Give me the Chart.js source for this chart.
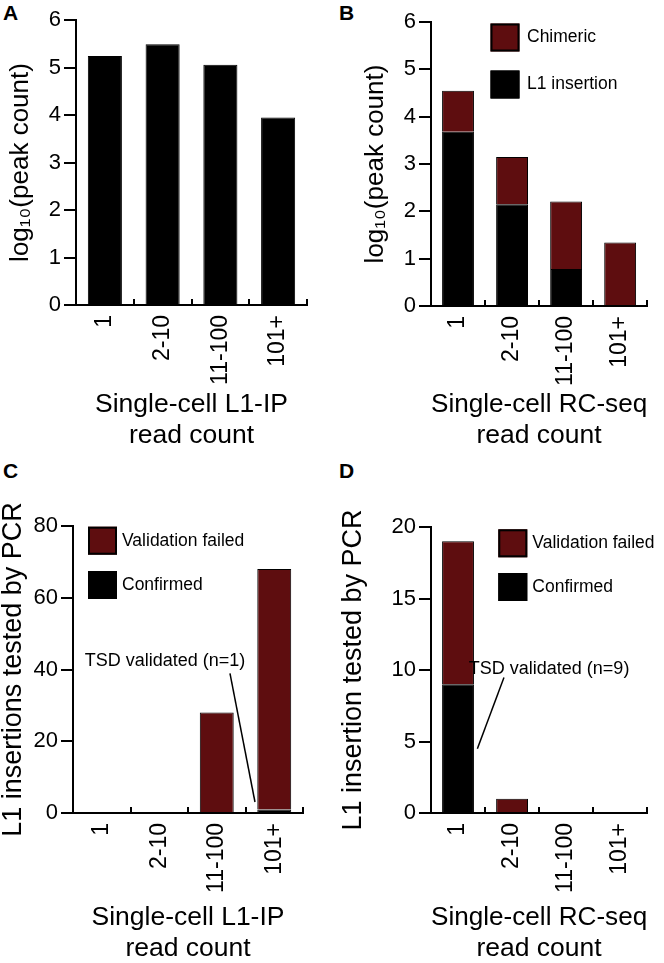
<!DOCTYPE html>
<html>
<head>
<meta charset="utf-8">
<script src="https://cdn.jsdelivr.net/npm/chart.js@4.4.1/dist/chart.umd.min.js"></script>
<style>
  html, body { margin: 0; padding: 0; background: #fff; overflow: hidden; }
  #pagina { position: relative; width: 664px; height: 963px; }
  canvas { position: absolute; }
  .letra { position: absolute; font: bold 21px 'Liberation Sans', Arial, sans-serif; line-height: 21px; }
</style>
</head>
<body>
<div id="pagina">
  <div class="letra" style="left:3px;top:2px">A</div>
  <div class="letra" style="left:339px;top:2px">B</div>
  <div class="letra" style="left:3px;top:460px">C</div>
  <div class="letra" style="left:339px;top:460px">D</div>
  <canvas id="graficoA" width="332" height="452" style="left:0;top:0"></canvas>
  <canvas id="graficoB" width="332" height="452" style="left:332px;top:0"></canvas>
  <canvas id="graficoC" width="332" height="525" style="left:0;top:440px"></canvas>
  <canvas id="graficoD" width="332" height="525" style="left:332px;top:440px"></canvas>
</div>
<script>
// Dados
const categorias = ['1', '2-10', '11-100', '101+'];
const picosL1IP = [5.24, 5.49, 5.06, 3.95];        // painel A, log10
const rcInsercao = [3.68, 2.15, 0.78, 0];          // painel B, parte preta
const rcQuimerico = [0.87, 1.00, 1.43, 1.34];      // painel B, parte vermelha
const l1ipConfirmado = [0, 0, 0, 1];               // painel C
const l1ipFalhou = [0, 0, 28, 67];
const rcConfirmado = [9, 0, 0, 0];                 // painel D
const rcFalhou = [10, 1, 0, 0];

const vermelho = '#5e0d0f';
const preto = '#000000';
const fonte = "'Liberation Sans', Arial, sans-serif";

Chart.defaults.font.family = fonte;
Chart.defaults.color = '#000';

// Legenda desenhada à mão (caixas com borda preta)
const pluginLegenda = {
  id: 'caixas',
  afterDraw(chart, args, opts) {
    if (!opts || !opts.itens) return;
    const ctx = chart.ctx;
    const { left, top } = chart.chartArea;
    ctx.save();
    opts.itens.forEach((indice, i) => {
      const ds = chart.data.datasets[indice];
      const x = left + opts.dx;
      const y = top + opts.dy + i * opts.passo;
      ctx.fillStyle = ds.backgroundColor;
      ctx.fillRect(x, y, 29, 28);
      ctx.lineWidth = 2;
      ctx.strokeStyle = '#000';
      ctx.strokeRect(x + 1, y + 1, 27, 26);
      ctx.fillStyle = '#000';
      ctx.font = '17.5px ' + fonte;
      ctx.textBaseline = 'middle';
      ctx.textAlign = 'left';
      ctx.fillText(ds.label, x + 29 + opts.gap, y + 14);
    });
    ctx.restore();
  }
};

// Anotação "TSD validated" com a linha de chamada
const pluginNota = {
  id: 'nota',
  afterDraw(chart, args, o) {
    if (!o || !o.texto) return;
    const sx = chart.scales.x, sy = chart.scales.y;
    const ponto = p => [sx.getPixelForValue(p[0]), sy.getPixelForValue(p[1])];
    const ctx = chart.ctx;
    const t = ponto(o.em), a = ponto(o.de), b = ponto(o.ate);
    ctx.save();
    ctx.font = '18px ' + fonte;
    ctx.fillStyle = '#000';
    ctx.textAlign = 'center';
    ctx.textBaseline = 'middle';
    ctx.fillText(o.texto, t[0], t[1]);
    ctx.strokeStyle = '#000';
    ctx.lineWidth = 1.5;
    ctx.beginPath();
    ctx.moveTo(a[0], a[1]);
    ctx.lineTo(b[0], b[1]);
    ctx.stroke();
    ctx.restore();
  }
};

function montarPainel(id, p) {
  // borda preta fina em todas as barras
  p.datasets.forEach(ds => {
    ds.borderColor = '#000';
    ds.borderWidth = 1;
    ds.barPercentage = 0.59;
    ds.categoryPercentage = 1;
  });

  new Chart(document.getElementById(id), {
    type: 'bar',
    data: { labels: categorias, datasets: p.datasets },
    options: {
      responsive: false,
      animation: false,
      layout: { padding: { left: 0, top: p.area.top, right: 332 - p.area.right, bottom: 0 } },
      plugins: {
        legend: { display: false },
        tooltip: { enabled: false },
        caixas: p.legenda || {},
        nota: p.nota || {}
      },
      scales: {
        x: {
          stacked: true,
          afterFit: s => { s.height = p.altura - p.area.bottom; },
          border: { display: true, color: '#000', width: 2 },
          grid: { drawOnChartArea: false, tickLength: -6, color: '#000', lineWidth: 2 },
          ticks: {
            minRotation: 90,
            maxRotation: 90,
            autoSkip: false,
            padding: 16,
            color: '#000',
            font: { size: 23 }
          },
          title: {
            display: true,
            text: p.tituloX,
            color: '#000',
            font: { size: 26.5 },
            padding: { top: 0, bottom: p.padX || 0 }
          }
        },
        y: {
          stacked: true,
          min: 0,
          max: p.maxY,
          afterFit: s => { s.width = p.area.left; },
          border: { display: true, color: '#000', width: 2 },
          grid: { drawOnChartArea: false, tickLength: 12, color: '#000', lineWidth: 2 },
          ticks: { stepSize: p.passo, padding: 3, color: '#000', font: { size: 22 } },
          title: {
            display: true,
            text: p.tituloY,
            color: '#000',
            font: { size: p.fonteY },
            padding: { top: p.padY, bottom: 0 }
          }
        }
      }
    },
    plugins: [pluginLegenda, pluginNota]
  });
}

window.addEventListener('DOMContentLoaded', () => {
  montarPainel('graficoA', {
    area: { left: 76, right: 307, top: 20, bottom: 305 },
    altura: 452,
    maxY: 6, passo: 1, padY: 5, fonteY: 26,
    tituloY: 'log\u2081\u2080(peak count)',
    tituloX: ['Single-cell L1-IP', 'read count'],
    datasets: [{ label: 'Peaks', data: picosL1IP, backgroundColor: preto }]
  });

  montarPainel('graficoB', {
    area: { left: 99, right: 330, top: 22, bottom: 306 },
    altura: 452,
    maxY: 6, passo: 1, padY: 28, fonteY: 26,
    tituloY: 'log\u2081\u2080(peak count)',
    tituloX: ['Single-cell RC-seq', 'read count'],
    datasets: [
      { label: 'L1 insertion', data: rcInsercao, backgroundColor: preto },
      { label: 'Chimeric', data: rcQuimerico, backgroundColor: vermelho }
    ],
    legenda: { itens: [1, 0], dx: 59.5, dy: 1.5, passo: 47, gap: 7.5 }
  });

  montarPainel('graficoC', {
    area: { left: 73, right: 303, top: 86, bottom: 373 },
    altura: 525,
    maxY: 80, passo: 20, padY: -3, fonteY: 27,
    tituloY: 'L1 insertions tested by PCR',
    tituloX: ['Single-cell L1-IP', 'read count'],
    datasets: [
      { label: 'Confirmed', data: l1ipConfirmado, backgroundColor: preto },
      { label: 'Validation failed', data: l1ipFalhou, backgroundColor: vermelho }
    ],
    legenda: { itens: [1, 0], dx: 15, dy: 0.7, passo: 44.3, gap: 5 },
    nota: { texto: 'TSD validated (n=1)', em: [1.10, 42.4], de: [2.23, 38.9], ate: [2.665, 3.07] }
  });

  montarPainel('graficoD', {
    area: { left: 99, right: 330, top: 87, bottom: 373 },
    altura: 525,
    maxY: 20, passo: 5, padY: 5, fonteY: 27,
    tituloY: 'L1 insertion tested by PCR',
    tituloX: ['Single-cell RC-seq', 'read count'],
    datasets: [
      { label: 'Confirmed', data: rcConfirmado, backgroundColor: preto },
      { label: 'Validation failed', data: rcFalhou, backgroundColor: vermelho }
    ],
    legenda: { itens: [1, 0], dx: 67.3, dy: 2.3, passo: 43.7, gap: 5 },
    nota: { texto: 'TSD validated (n=9)', em: [1.685, 10.1], de: [0.85, 9.48], ate: [0.358, 4.5] }
  });
});
</script>
</body>
</html>
